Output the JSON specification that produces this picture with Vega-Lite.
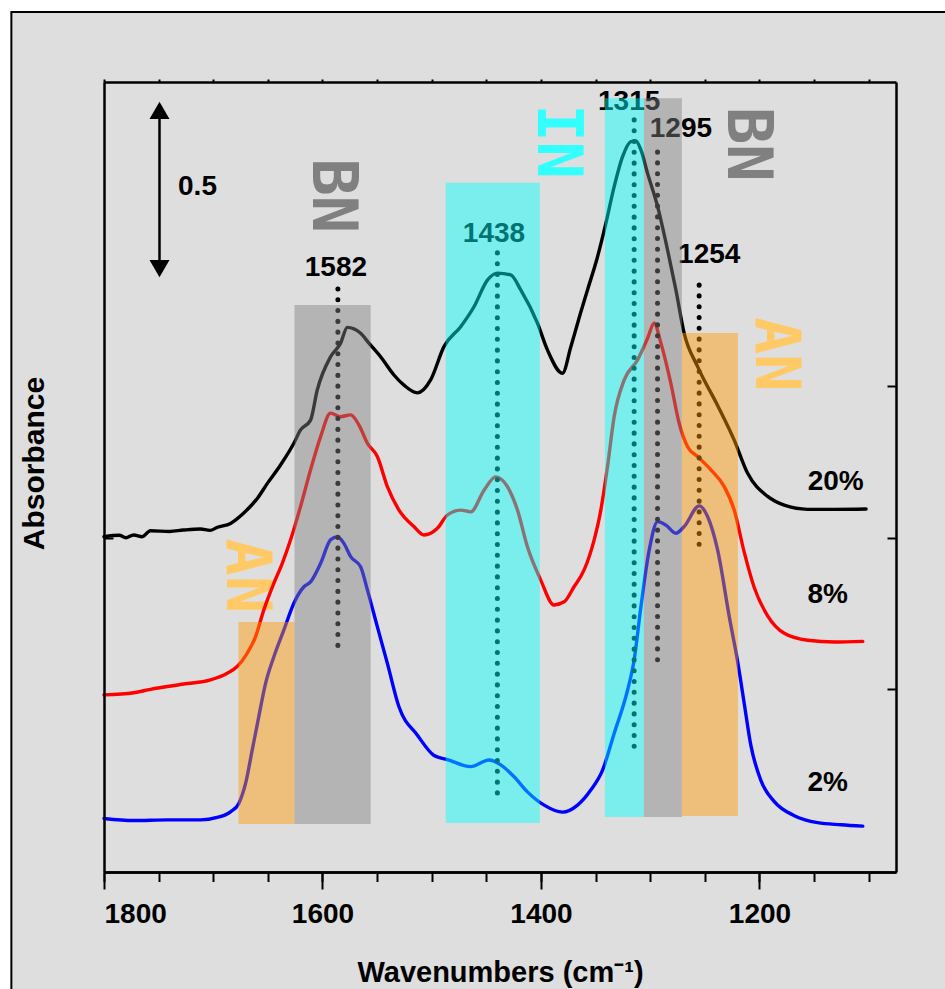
{
  "$schema": "https://vega.github.io/schema/vega-lite/v6.json",
  "width": 792,
  "height": 790,
  "autosize": "none",
  "padding": {"left": 104, "top": 82, "right": 49, "bottom": 117},
  "background": "white",
  "config": {
    "view": {"stroke": null},
    "font": "Liberation Sans",
    "axis": {"grid": false, "domainColor": "black", "domainWidth": 2.5, "tickColor": "black", "tickWidth": 2, "labelFont": "Liberation Sans", "titleFont": "Liberation Sans", "labelColor": "black", "titleColor": "black"}
  },
  "resolve": {"axis": {"x": "independent", "y": "independent"}, "scale": {"color": "independent", "opacity": "independent", "shape": "independent"}},
  "datasets": {
    "frame": [{"x1": 1884.8, "x2": 1000, "y1": 2.457, "y2": -0.5}],
    "spectra": [
      {"s": "20%", "wn": 1800, "a": 0.958}, {"s": "20%", "wn": 1786, "a": 0.962}, {"s": "20%", "wn": 1780, "a": 0.955}, {"s": "20%", "wn": 1772.8, "a": 0.963}, {"s": "20%", "wn": 1765, "a": 0.958}, {"s": "20%", "wn": 1757.5, "a": 0.975}, {"s": "20%", "wn": 1740, "a": 0.973}, {"s": "20%", "wn": 1727.3, "a": 0.977}, {"s": "20%", "wn": 1711.7, "a": 0.980}, {"s": "20%", "wn": 1703, "a": 0.976}, {"s": "20%", "wn": 1696.1, "a": 0.985}, {"s": "20%", "wn": 1684.2, "a": 0.996}, {"s": "20%", "wn": 1672.3, "a": 1.025}, {"s": "20%", "wn": 1659.5, "a": 1.068}, {"s": "20%", "wn": 1650.3, "a": 1.111}, {"s": "20%", "wn": 1638.4, "a": 1.163}, {"s": "20%", "wn": 1626.2, "a": 1.225}, {"s": "20%", "wn": 1620.1, "a": 1.263}, {"s": "20%", "wn": 1610.9, "a": 1.291}, {"s": "20%", "wn": 1604.8, "a": 1.377}, {"s": "20%", "wn": 1592.6, "a": 1.472}, {"s": "20%", "wn": 1583.4, "a": 1.511}, {"s": "20%", "wn": 1577.3, "a": 1.556}, {"s": "20%", "wn": 1565.1, "a": 1.539}, {"s": "20%", "wn": 1557.5, "a": 1.511}, {"s": "20%", "wn": 1546.8, "a": 1.472}, {"s": "20%", "wn": 1534.6, "a": 1.420}, {"s": "20%", "wn": 1525.4, "a": 1.391}, {"s": "20%", "wn": 1513.1, "a": 1.369}, {"s": "20%", "wn": 1501.0, "a": 1.406}, {"s": "20%", "wn": 1488.8, "a": 1.501}, {"s": "20%", "wn": 1473.5, "a": 1.558}, {"s": "20%", "wn": 1461.3, "a": 1.615}, {"s": "20%", "wn": 1449.0, "a": 1.691}, {"s": "20%", "wn": 1439.8, "a": 1.711}, {"s": "20%", "wn": 1427.7, "a": 1.706}, {"s": "20%", "wn": 1418.5, "a": 1.663}, {"s": "20%", "wn": 1403.2, "a": 1.568}, {"s": "20%", "wn": 1394.0, "a": 1.491}, {"s": "20%", "wn": 1380.3, "a": 1.425}, {"s": "20%", "wn": 1372.7, "a": 1.500}, {"s": "20%", "wn": 1363.5, "a": 1.600}, {"s": "20%", "wn": 1357.4, "a": 1.663}, {"s": "20%", "wn": 1348.2, "a": 1.758}, {"s": "20%", "wn": 1340.6, "a": 1.853}, {"s": "20%", "wn": 1333.0, "a": 1.958}, {"s": "20%", "wn": 1325.3, "a": 2.044}, {"s": "20%", "wn": 1317.7, "a": 2.087}, {"s": "20%", "wn": 1313.1, "a": 2.089}, {"s": "20%", "wn": 1308.5, "a": 2.063}, {"s": "20%", "wn": 1302.4, "a": 1.996}, {"s": "20%", "wn": 1293.2, "a": 1.901}, {"s": "20%", "wn": 1284.1, "a": 1.777}, {"s": "20%", "wn": 1276.5, "a": 1.663}, {"s": "20%", "wn": 1268.9, "a": 1.539}, {"s": "20%", "wn": 1256.6, "a": 1.444}, {"s": "20%", "wn": 1238.3, "a": 1.333}, {"s": "20%", "wn": 1223.1, "a": 1.234}, {"s": "20%", "wn": 1210.8, "a": 1.139}, {"s": "20%", "wn": 1192.5, "a": 1.073}, {"s": "20%", "wn": 1177.3, "a": 1.048}, {"s": "20%", "wn": 1155.8, "a": 1.036}, {"s": "20%", "wn": 1131.4, "a": 1.036}, {"s": "20%", "wn": 1102.4, "a": 1.037},
      {"s": "8%", "wn": 1800, "a": 0.506}, {"s": "8%", "wn": 1772.8, "a": 0.512}, {"s": "8%", "wn": 1757.5, "a": 0.522}, {"s": "8%", "wn": 1727.0, "a": 0.537}, {"s": "8%", "wn": 1702.5, "a": 0.549}, {"s": "8%", "wn": 1687.2, "a": 0.568}, {"s": "8%", "wn": 1678.1, "a": 0.587}, {"s": "8%", "wn": 1668.9, "a": 0.625}, {"s": "8%", "wn": 1661.3, "a": 0.672}, {"s": "8%", "wn": 1653.7, "a": 0.749}, {"s": "8%", "wn": 1644.5, "a": 0.825}, {"s": "8%", "wn": 1636.8, "a": 0.882}, {"s": "8%", "wn": 1629.2, "a": 0.949}, {"s": "8%", "wn": 1620.1, "a": 1.044}, {"s": "8%", "wn": 1610.9, "a": 1.149}, {"s": "8%", "wn": 1601.7, "a": 1.244}, {"s": "8%", "wn": 1592.6, "a": 1.311}, {"s": "8%", "wn": 1583.4, "a": 1.301}, {"s": "8%", "wn": 1574.2, "a": 1.306}, {"s": "8%", "wn": 1566.6, "a": 1.277}, {"s": "8%", "wn": 1558.9, "a": 1.225}, {"s": "8%", "wn": 1549.8, "a": 1.187}, {"s": "8%", "wn": 1540.6, "a": 1.101}, {"s": "8%", "wn": 1530.0, "a": 1.034}, {"s": "8%", "wn": 1516.3, "a": 0.987}, {"s": "8%", "wn": 1507.1, "a": 0.963}, {"s": "8%", "wn": 1494.8, "a": 0.982}, {"s": "8%", "wn": 1485.6, "a": 1.020}, {"s": "8%", "wn": 1473.5, "a": 1.034}, {"s": "8%", "wn": 1464.3, "a": 1.029}, {"s": "8%", "wn": 1452.1, "a": 1.091}, {"s": "8%", "wn": 1441.4, "a": 1.129}, {"s": "8%", "wn": 1430.7, "a": 1.101}, {"s": "8%", "wn": 1421.5, "a": 1.034}, {"s": "8%", "wn": 1412.4, "a": 0.929}, {"s": "8%", "wn": 1400.2, "a": 0.834}, {"s": "8%", "wn": 1388.0, "a": 0.763}, {"s": "8%", "wn": 1378.8, "a": 0.772}, {"s": "8%", "wn": 1369.7, "a": 0.815}, {"s": "8%", "wn": 1360.5, "a": 0.863}, {"s": "8%", "wn": 1351.3, "a": 0.949}, {"s": "8%", "wn": 1345.2, "a": 1.034}, {"s": "8%", "wn": 1339.1, "a": 1.158}, {"s": "8%", "wn": 1333.0, "a": 1.301}, {"s": "8%", "wn": 1323.8, "a": 1.406}, {"s": "8%", "wn": 1311.6, "a": 1.463}, {"s": "8%", "wn": 1302.4, "a": 1.525}, {"s": "8%", "wn": 1296.4, "a": 1.568}, {"s": "8%", "wn": 1290.2, "a": 1.511}, {"s": "8%", "wn": 1281.1, "a": 1.396}, {"s": "8%", "wn": 1273.5, "a": 1.282}, {"s": "8%", "wn": 1265.8, "a": 1.215}, {"s": "8%", "wn": 1256.6, "a": 1.187}, {"s": "8%", "wn": 1244.4, "a": 1.149}, {"s": "8%", "wn": 1232.2, "a": 1.101}, {"s": "8%", "wn": 1223.1, "a": 1.034}, {"s": "8%", "wn": 1213.9, "a": 0.913}, {"s": "8%", "wn": 1204.7, "a": 0.812}, {"s": "8%", "wn": 1192.5, "a": 0.732}, {"s": "8%", "wn": 1177.3, "a": 0.682}, {"s": "8%", "wn": 1155.8, "a": 0.662}, {"s": "8%", "wn": 1131.4, "a": 0.657}, {"s": "8%", "wn": 1105.4, "a": 0.659},
      {"s": "2%", "wn": 1800, "a": 0.153}, {"s": "2%", "wn": 1772.8, "a": 0.147}, {"s": "2%", "wn": 1742.2, "a": 0.149}, {"s": "2%", "wn": 1711.7, "a": 0.149}, {"s": "2%", "wn": 1696.4, "a": 0.156}, {"s": "2%", "wn": 1684.2, "a": 0.172}, {"s": "2%", "wn": 1676.6, "a": 0.196}, {"s": "2%", "wn": 1670.4, "a": 0.253}, {"s": "2%", "wn": 1664.3, "a": 0.349}, {"s": "2%", "wn": 1658.3, "a": 0.444}, {"s": "2%", "wn": 1652.1, "a": 0.539}, {"s": "2%", "wn": 1644.5, "a": 0.615}, {"s": "2%", "wn": 1635.4, "a": 0.691}, {"s": "2%", "wn": 1626.2, "a": 0.768}, {"s": "2%", "wn": 1617.0, "a": 0.815}, {"s": "2%", "wn": 1610.9, "a": 0.829}, {"s": "2%", "wn": 1601.7, "a": 0.882}, {"s": "2%", "wn": 1592.6, "a": 0.949}, {"s": "2%", "wn": 1586.4, "a": 0.958}, {"s": "2%", "wn": 1580.4, "a": 0.939}, {"s": "2%", "wn": 1574.2, "a": 0.901}, {"s": "2%", "wn": 1565.1, "a": 0.872}, {"s": "2%", "wn": 1558.9, "a": 0.806}, {"s": "2%", "wn": 1549.8, "a": 0.701}, {"s": "2%", "wn": 1540.6, "a": 0.596}, {"s": "2%", "wn": 1530.0, "a": 0.472}, {"s": "2%", "wn": 1513.1, "a": 0.391}, {"s": "2%", "wn": 1497.9, "a": 0.333}, {"s": "2%", "wn": 1485.6, "a": 0.321}, {"s": "2%", "wn": 1464.3, "a": 0.301}, {"s": "2%", "wn": 1447.5, "a": 0.320}, {"s": "2%", "wn": 1436.8, "a": 0.306}, {"s": "2%", "wn": 1424.6, "a": 0.272}, {"s": "2%", "wn": 1412.4, "a": 0.229}, {"s": "2%", "wn": 1397.1, "a": 0.191}, {"s": "2%", "wn": 1380.3, "a": 0.171}, {"s": "2%", "wn": 1366.5, "a": 0.191}, {"s": "2%", "wn": 1354.4, "a": 0.234}, {"s": "2%", "wn": 1343.6, "a": 0.291}, {"s": "2%", "wn": 1333.0, "a": 0.396}, {"s": "2%", "wn": 1320.7, "a": 0.520}, {"s": "2%", "wn": 1314.7, "a": 0.606}, {"s": "2%", "wn": 1308.5, "a": 0.758}, {"s": "2%", "wn": 1300.9, "a": 0.920}, {"s": "2%", "wn": 1293.2, "a": 1.001}, {"s": "2%", "wn": 1285.6, "a": 0.991}, {"s": "2%", "wn": 1276.5, "a": 0.968}, {"s": "2%", "wn": 1268.9, "a": 0.987}, {"s": "2%", "wn": 1255.1, "a": 1.046}, {"s": "2%", "wn": 1247.4, "a": 1.015}, {"s": "2%", "wn": 1238.3, "a": 0.920}, {"s": "2%", "wn": 1227.6, "a": 0.729}, {"s": "2%", "wn": 1220.0, "a": 0.602}, {"s": "2%", "wn": 1213.9, "a": 0.481}, {"s": "2%", "wn": 1207.8, "a": 0.361}, {"s": "2%", "wn": 1198.6, "a": 0.261}, {"s": "2%", "wn": 1186.4, "a": 0.201}, {"s": "2%", "wn": 1168.1, "a": 0.161}, {"s": "2%", "wn": 1146.7, "a": 0.141}, {"s": "2%", "wn": 1125.3, "a": 0.135}, {"s": "2%", "wn": 1105.4, "a": 0.131}
    ],
    "bands": [
      {"band": "AN", "from": 1676.9, "to": 1625.6, "top": 0.714, "bottom": 0.137},
      {"band": "BN", "from": 1625.6, "to": 1555.9, "top": 1.620, "bottom": 0.137},
      {"band": "IN", "from": 1487.2, "to": 1401.1, "top": 1.969, "bottom": 0.140},
      {"band": "IN", "from": 1341.5, "to": 1305.8, "top": 2.211, "bottom": 0.157},
      {"band": "BN", "from": 1305.8, "to": 1271.0, "top": 2.211, "bottom": 0.157},
      {"band": "AN", "from": 1271.0, "to": 1219.7, "top": 1.540, "bottom": 0.160}
    ],
    "bandLabels": [
      {"band": "BN", "wn": 1591.0, "a": 1.932},
      {"band": "IN", "wn": 1385.7, "a": 2.087},
      {"band": "BN", "wn": 1211.6, "a": 2.079},
      {"band": "AN", "wn": 1186.0, "a": 1.479},
      {"band": "AN", "wn": 1669.7, "a": 0.846}
    ],
    "peaks": [
      {"label": "1582", "wn": 1585.9, "top": 1.666, "bottom": 0.637, "lwn": 1587.7, "la": 1.726},
      {"label": "1438", "wn": 1439.9, "top": 1.769, "bottom": 0.209, "lwn": 1443.0, "la": 1.824},
      {"label": "1315", "wn": 1314.7, "top": 2.149, "bottom": 0.340, "lwn": 1319.3, "la": 2.199},
      {"label": "1295", "wn": 1293.3, "top": 2.057, "bottom": 0.594, "lwn": 1271.9, "la": 2.123},
      {"label": "1254", "wn": 1255.2, "top": 1.677, "bottom": 0.926, "lwn": 1246.0, "la": 1.764}
    ],
    "sampleLabels": [
      {"label": "20%", "wn": 1130.2, "a": 1.113},
      {"label": "8%", "wn": 1137.5, "a": 0.790},
      {"label": "2%", "wn": 1137.5, "a": 0.253}
    ],
    "scaleBar": [{"wn": 1749.2, "top": 2.176, "bottom": 1.724, "label": "0.5", "lwn": 1714.4, "la": 1.957}],
    "arrowHeads": [{"wn": 1749.2, "a": 2.176, "dir": "up"}, {"wn": 1749.2, "a": 1.724, "dir": "down"}]
  },
  "layer": [
    {
      "data": {"name": "frame"},
      "mark": {"type": "rect", "fill": "#dedede", "stroke": "black", "strokeWidth": 2},
      "encoding": {
        "x": {"field": "x1", "type": "quantitative", "scale": {"domain": [1075, 1800], "reverse": true, "nice": false, "zero": false}, "axis": null},
        "x2": {"field": "x2"},
        "y": {"field": "y1", "type": "quantitative", "scale": {"domain": [0, 2.2571], "nice": false, "zero": false}, "axis": null},
        "y2": {"field": "y2"}
      }
    },
    {
      "data": {"name": "scaleBar"},
      "mark": {"type": "rule", "color": "black", "strokeWidth": 2.5},
      "encoding": {
        "x": {"field": "wn", "type": "quantitative", "axis": null},
        "y": {"field": "top", "type": "quantitative", "axis": null},
        "y2": {"field": "bottom"}
      }
    },
    {
      "data": {"name": "arrowHeads"},
      "mark": {"type": "point", "filled": true, "color": "black", "opacity": 1, "size": 400},
      "encoding": {
        "x": {"field": "wn", "type": "quantitative", "axis": null},
        "y": {"field": "a", "type": "quantitative", "axis": null},
        "shape": {"field": "dir", "type": "nominal", "scale": {"domain": ["up", "down"], "range": ["triangle-up", "triangle-down"]}, "legend": null}
      }
    },
    {
      "data": {"name": "scaleBar"},
      "mark": {"type": "text", "fontSize": 28, "fontWeight": "bold", "color": "black", "align": "center", "baseline": "middle"},
      "encoding": {
        "x": {"field": "lwn", "type": "quantitative", "axis": null},
        "y": {"field": "la", "type": "quantitative", "axis": null},
        "text": {"field": "label"}
      }
    },
    {
      "data": {"name": "peaks"},
      "mark": {"type": "text", "fontSize": 28, "fontWeight": "bold", "color": "black", "align": "center", "baseline": "middle"},
      "encoding": {
        "x": {"field": "lwn", "type": "quantitative", "axis": null},
        "y": {"field": "la", "type": "quantitative", "axis": null},
        "text": {"field": "label"}
      }
    },
    {
      "data": {"name": "bandLabels"},
      "mark": {"type": "text", "font": "DejaVu Sans Mono", "fontSize": 62, "fontWeight": "bold", "angle": 90, "align": "center", "baseline": "middle"},
      "encoding": {
        "x": {"field": "wn", "type": "quantitative", "axis": null},
        "y": {"field": "a", "type": "quantitative", "axis": null},
        "text": {"field": "band"},
        "color": {"field": "band", "type": "nominal", "scale": {"domain": ["AN", "BN", "IN"], "range": ["#ffc966", "#808080", "#33ffff"]}, "legend": null}
      }
    },
    {
      "data": {"name": "spectra"},
      "mark": {"type": "line", "strokeWidth": 3.4, "strokeJoin": "round", "strokeCap": "round", "interpolate": "monotone"},
      "encoding": {
        "x": {"field": "wn", "type": "quantitative", "scale": {"domain": [1075, 1800], "reverse": true, "nice": false, "zero": false},
              "axis": {"orient": "bottom", "zindex": 2, "values": [1800, 1600, 1400, 1200], "format": "d", "tickSize": 17, "labelFontSize": 28, "labelFontWeight": "bold", "labelBaseline": "alphabetic", "labelPadding": 33, "labelOverlap": false, "title": "Wavenumbers (cm⁻¹)", "titleFontSize": 29, "titleFontWeight": "bold", "titleBaseline": "alphabetic", "titleX": 396, "titleY": 109, "titleAlign": "center"}},
        "y": {"field": "a", "type": "quantitative", "scale": {"domain": [0, 2.2571], "nice": false, "zero": false},
              "axis": {"orient": "left", "zindex": 2, "values": [0.954], "labels": false, "tickSize": -9, "title": "Absorbance", "titleFontSize": 30, "titleFontWeight": "bold", "titleAngle": -90, "titleX": -70, "titleY": 381, "titleAlign": "center", "titleBaseline": "middle"}},
        "color": {"field": "s", "type": "nominal", "scale": {"domain": ["20%", "8%", "2%"], "range": ["#000000", "#ff0000", "#0000ff"]}, "legend": null}
      }
    },
    {
      "data": {"name": "peaks"},
      "mark": {"type": "rule", "color": "black", "strokeWidth": 5, "strokeCap": "round", "strokeDash": [0.1, 10.7]},
      "encoding": {
        "x": {"field": "wn", "type": "quantitative", "scale": {"domain": [1075, 1800], "reverse": true, "nice": false, "zero": false},
              "axis": {"orient": "bottom", "zindex": 2, "values": [1800, 1750, 1700, 1650, 1600, 1550, 1500, 1450, 1400, 1350, 1300, 1250, 1200, 1150, 1100], "labels": false, "tickSize": 9.5, "title": null}},
        "y": {"field": "top", "type": "quantitative", "scale": {"domain": [0, 2.2571], "nice": false, "zero": false},
              "axis": {"orient": "right", "zindex": 2, "values": [0.523, 0.954, 1.389], "labels": false, "tickSize": -9, "title": null}},
        "y2": {"field": "bottom"}
      }
    },
    {
      "data": {"name": "bands"},
      "mark": {"type": "rect"},
      "encoding": {
        "x": {"field": "from", "type": "quantitative", "scale": {"domain": [1075, 1800], "reverse": true, "nice": false, "zero": false},
              "axis": {"orient": "top", "zindex": 2, "values": [1800, 1750, 1700, 1650, 1600, 1550, 1500, 1450, 1400, 1350, 1300, 1250, 1200, 1150, 1100], "labels": false, "tickSize": 3, "title": null}},
        "x2": {"field": "to"},
        "y": {"field": "top", "type": "quantitative", "axis": null},
        "y2": {"field": "bottom"},
        "color": {"field": "band", "type": "nominal", "scale": {"domain": ["AN", "BN", "IN"], "range": ["#ff9900", "#808080", "#00ffff"]}, "legend": null},
        "opacity": {"field": "band", "type": "nominal", "scale": {"domain": ["AN", "BN", "IN"], "range": [0.45, 0.45, 0.36]}, "legend": null}
      }
    },
    {
      "data": {"name": "sampleLabels"},
      "mark": {"type": "text", "fontSize": 28, "fontWeight": "bold", "color": "black", "align": "center", "baseline": "middle"},
      "encoding": {
        "x": {"field": "wn", "type": "quantitative", "axis": null},
        "y": {"field": "a", "type": "quantitative", "axis": null},
        "text": {"field": "label"}
      }
    }
  ]
}
